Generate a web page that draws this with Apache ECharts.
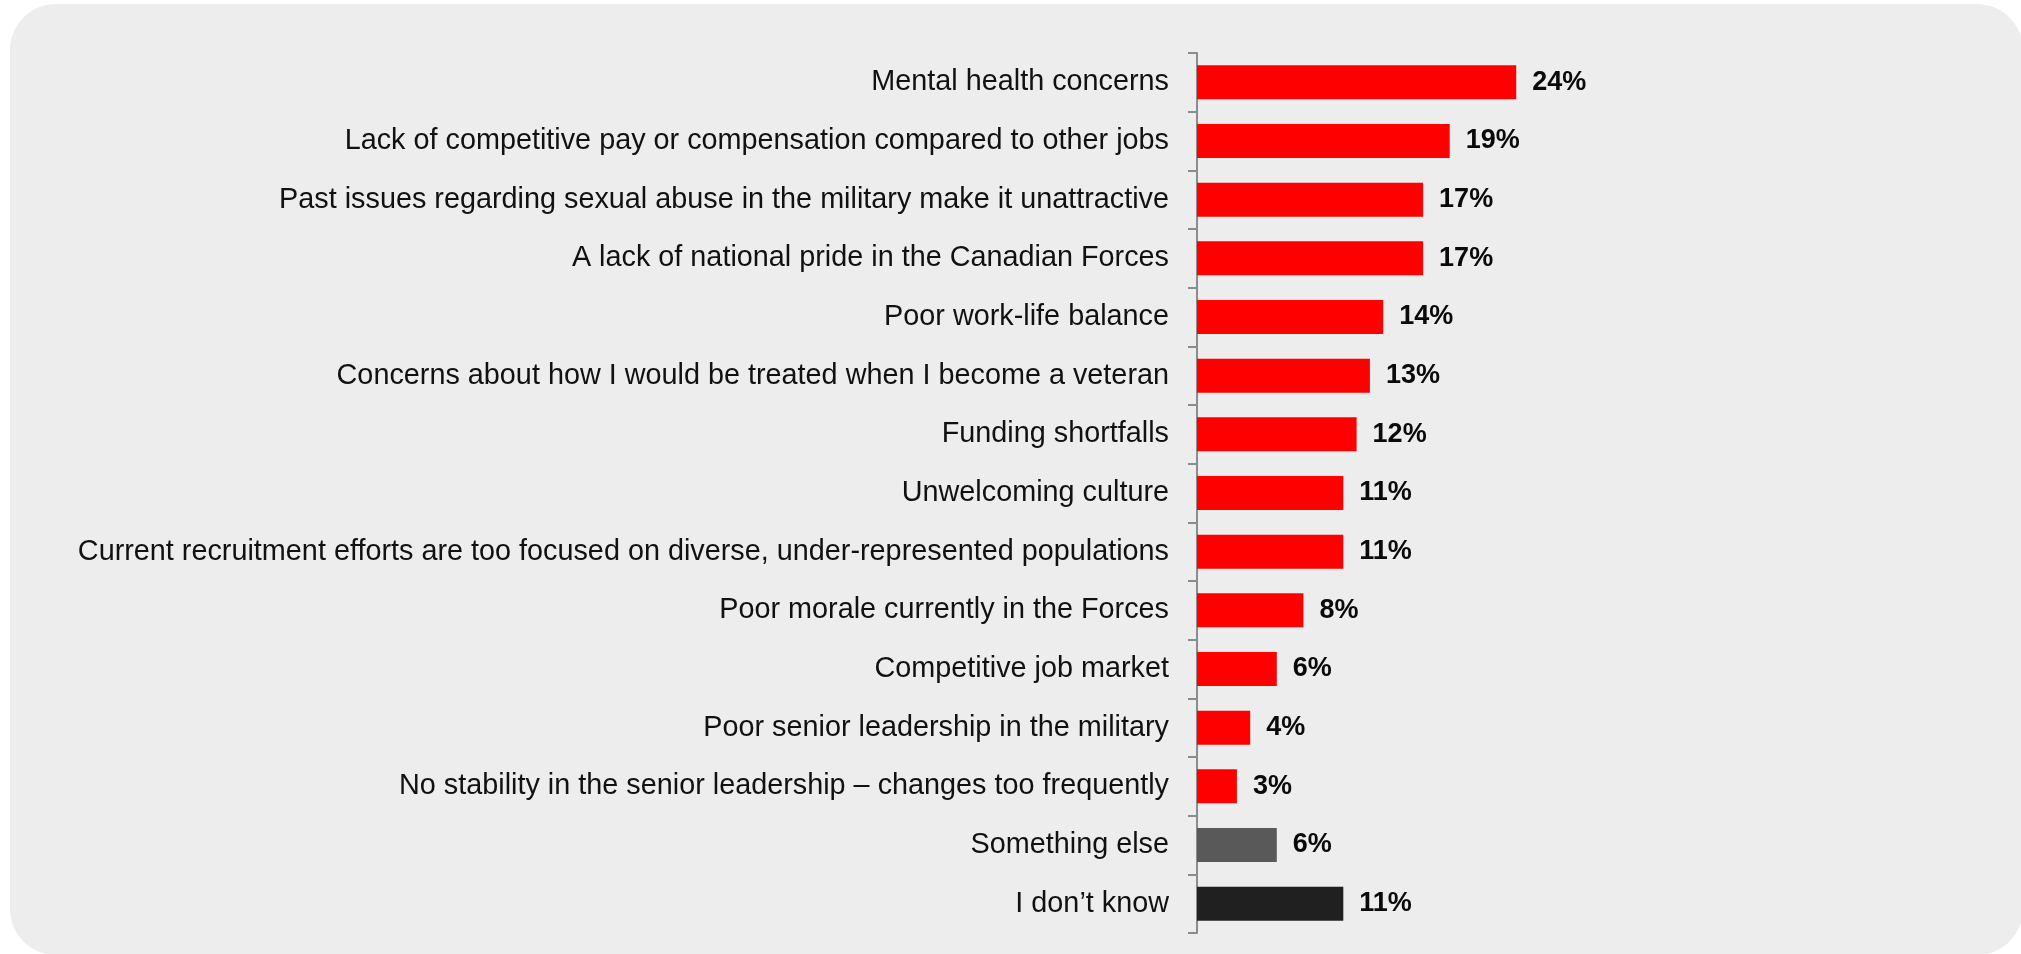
<!DOCTYPE html>
<html>
<head>
<meta charset="utf-8">
<script src="https://cdn.jsdelivr.net/npm/echarts@6/dist/echarts.min.js"></script>
<style>
  html, body { margin: 0; padding: 0; background: #ffffff; }
  #chart { width: 2021px; height: 954px; }
</style>
</head>
<body>
<div id="chart"></div>
<script>
// Reasons given, top to bottom
const categories = [
  'Mental health concerns',
  'Lack of competitive pay or compensation compared to other jobs',
  'Past issues regarding sexual abuse in the military make it unattractive',
  'A lack of national pride in the Canadian Forces',
  'Poor work-life balance',
  'Concerns about how I would be treated when I become a veteran',
  'Funding shortfalls',
  'Unwelcoming culture',
  'Current recruitment efforts are too focused on diverse, under-represented populations',
  'Poor morale currently in the Forces',
  'Competitive job market',
  'Poor senior leadership in the military',
  'No stability in the senior leadership \u2013 changes too frequently',
  'Something else',
  'I don\u2019t know'
];

// Share of respondents (%)
const values = [24, 19, 17, 17, 14, 13, 12, 11, 11, 8, 6, 4, 3, 6, 11];

// Bar fill per row: reasons in red, "Something else" grey, "I don't know" near-black
const barColors = [
  '#FF0000', '#FF0000', '#FF0000', '#FF0000', '#FF0000',
  '#FF0000', '#FF0000', '#FF0000', '#FF0000', '#FF0000',
  '#FF0000', '#FF0000', '#FF0000', '#595959', '#202020'
];

const chart = echarts.init(document.getElementById('chart'), null, { renderer: 'canvas' });

const option = {
  backgroundColor: 'transparent',
  animation: false,
  graphic: [{
    type: 'rect',
    z: -10,
    silent: true,
    shape: { x: 10, y: 4, width: 2013, height: 951, r: 46 },
    style: { fill: '#EDEDED' }
  }],
  grid: {
    left: 1197,
    top: 53,
    width: 665,
    height: 880,
    containLabel: false
  },
  xAxis: {
    type: 'value',
    min: 0,
    max: 50,
    show: false
  },
  yAxis: {
    type: 'category',
    inverse: true,
    data: categories,
    axisLine: { show: true, lineStyle: { color: '#8C8C8C', width: 2 } },
    axisTick: { show: true, length: 9, lineStyle: { color: '#8C8C8C', width: 2 } },
    axisLabel: {
      margin: 28,
      fontFamily: '"Liberation Sans", Arial, sans-serif',
      fontSize: 28.8,
      color: '#111111'
    },
    splitLine: { show: false }
  },
  series: [{
    type: 'bar',
    barWidth: 34,
    data: values.map((v, i) => ({ value: v, itemStyle: { color: barColors[i] } })),
    label: {
      show: true,
      position: 'right',
      distance: 16,
      formatter: '{c}%',
      fontFamily: '"Liberation Sans", Arial, sans-serif',
      fontWeight: 'bold',
      fontSize: 27,
      color: '#0A0A0A'
    }
  }]
};

chart.setOption(option);
</script>
</body>
</html>
